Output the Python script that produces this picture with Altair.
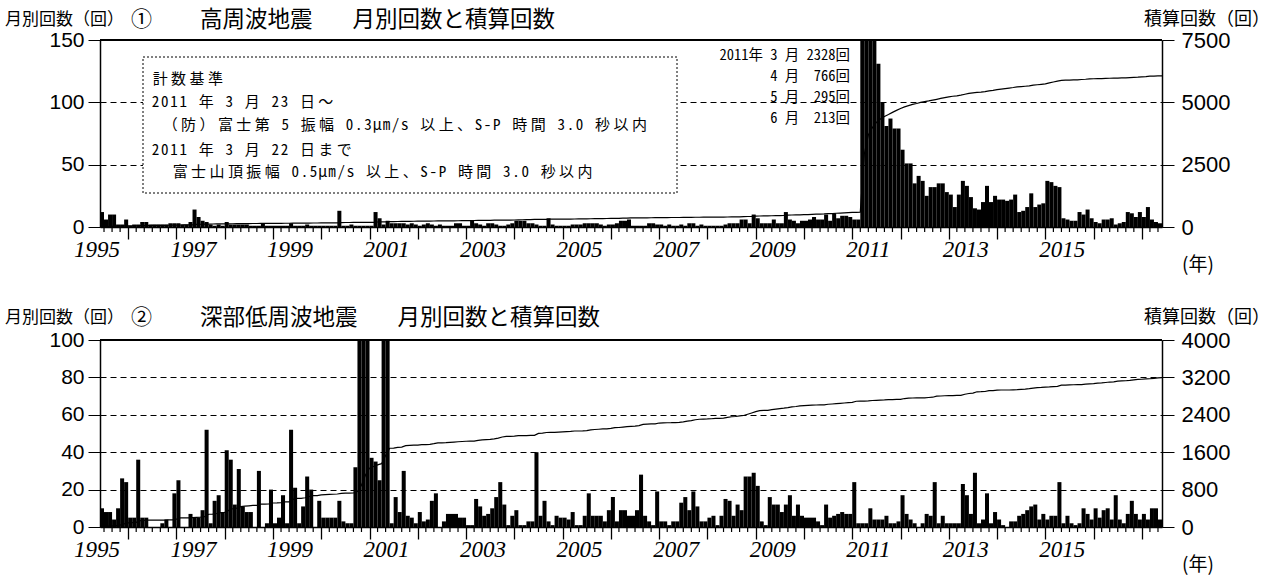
import unicodedata

import altair as alt
import pandas as pd

# Month positions are counted from January 1995 (0 = 1995-01).
FIRST_MONTH = 5          # first bar: June 1995
DOMAIN = [5, 269]        # June 1995 .. end of May 2017
W, H = 1062, 187         # plot area of each panel
GAP = 113                # vertical distance between the two plot areas

# ① High-frequency earthquakes, monthly counts (one row per year)
hf_counts = [
    12, 6, 10, 10, 2, 2, 6,                         # 1995 Jun-Dec
    1, 2, 2, 4, 4, 2, 2, 2, 2, 2, 3, 3,             # 1996
    3, 2, 2, 4, 14, 8, 5, 4, 2, 1, 2, 1,            # 1997
    4, 2, 2, 2, 2, 2, 1, 1, 1, 3, 1, 1,             # 1998
    1, 1, 1, 1, 3, 1, 1, 1, 2, 1, 1, 1,             # 1999
    1, 1, 1, 1, 13, 1, 1, 2, 1, 1, 1, 1,            # 2000
    1, 12, 7, 2, 5, 3, 3, 3, 3, 2, 3, 2,            # 2001
    1, 2, 3, 2, 1, 2, 1, 1, 1, 3, 3, 1,             # 2002
    1, 5, 3, 2, 1, 3, 3, 2, 1, 1, 2, 3,             # 2003
    5, 5, 5, 3, 3, 2, 1, 1, 7, 2, 1, 1,             # 2004
    1, 1, 2, 2, 2, 3, 3, 3, 3, 2, 1, 2,             # 2005
    2, 3, 5, 5, 6, 1, 1, 1, 1, 3, 3, 2,             # 2006
    2, 1, 2, 1, 1, 2, 1, 3, 3, 1, 2, 1,             # 2007
    1, 1, 1, 1, 2, 3, 3, 3, 6, 6, 3, 10,            # 2008
    7, 3, 3, 3, 6, 3, 3, 12, 6, 5, 3, 5,            # 2009
    5, 6, 8, 6, 6, 10, 5, 11, 7, 9, 9, 8,           # 2010
    6, 6, 2328, 766, 295, 213, 131, 100, 81, 87, 79, 79,   # 2011
    62, 51, 51, 35, 41, 37, 25, 32, 32, 35, 35, 28,        # 2012
    26, 16, 26, 37, 33, 24, 15, 14, 20, 33, 20, 25,        # 2013
    22, 22, 21, 22, 26, 12, 13, 16, 27, 16, 18, 19,        # 2014
    37, 36, 33, 32, 7, 6, 5, 5, 12, 10, 14, 7,             # 2015
    4, 3, 6, 6, 7, 2, 3, 4, 12, 11, 8, 12,                 # 2016
    8, 16, 6, 4, 3,                                         # 2017 Jan-May
]

# ② Deep low-frequency earthquakes, monthly counts (one row per year)
dlf_counts = [
    10, 8, 8, 4, 10, 26, 24,                        # 1995 Jun-Dec
    5, 5, 36, 5, 5, 0, 0, 0, 2, 4, 0, 18,           # 1996
    25, 0, 0, 7, 5, 5, 9, 52, 2, 14, 17, 8,         # 1997
    41, 36, 12, 31, 11, 8, 8, 0, 30, 0, 2, 20,      # 1998
    2, 5, 17, 2, 52, 21, 2, 11, 27, 20, 0, 14,      # 1999
    5, 5, 5, 5, 14, 3, 2, 2, 32, 133, 222, 143,     # 2000
    37, 35, 25, 175, 155, 2, 16, 8, 30, 6, 5, 2,    # 2001
    8, 3, 4, 14, 18, 0, 3, 7, 7, 7, 5, 5,           # 2002
    1, 1, 15, 11, 6, 7, 10, 16, 24, 12, 1, 6,       # 2003
    9, 1, 1, 3, 3, 40, 6, 14, 3, 1, 6, 5,           # 2004
    5, 4, 8, 1, 1, 6, 18, 6, 6, 6, 3, 9,            # 2005
    16, 3, 9, 9, 6, 6, 9, 28, 6, 3, 1, 19,          # 2006
    3, 3, 1, 3, 3, 13, 16, 9, 19, 11, 3, 3,         # 2007
    5, 6, 1, 6, 15, 14, 6, 12, 9, 27, 27, 29,       # 2008
    22, 3, 1, 16, 12, 12, 8, 12, 17, 6, 12, 6,      # 2009
    5, 5, 5, 3, 1, 12, 5, 6, 7, 8, 7, 7,            # 2010
    24, 2, 2, 2, 10, 4, 4, 4, 6, 2, 2, 3,           # 2011
    17, 7, 4, 2, 0, 2, 7, 6, 24, 2, 6, 2,           # 2012
    2, 2, 2, 23, 17, 7, 29, 2, 4, 18, 2, 8,         # 2013
    4, 1, 0, 3, 3, 6, 7, 9, 11, 12, 4, 7,           # 2014
    4, 6, 6, 24, 2, 6, 2, 1, 2, 10, 7, 4,           # 2015
    10, 5, 9, 10, 4, 17, 4, 2, 7, 14, 7, 4,         # 2016
    7, 4, 10, 10, 4,                                # 2017 Jan-May
]

# Axis ticks and labels
tick_years = list(range(1996, 2018))                 # long ticks at each January
label_years = list(range(1995, 2017, 2))             # italic year labels
hf_left_ticks = [0, 50, 100, 150]
hf_right_ticks = [0, 2500, 5000, 7500]
dlf_left_ticks = [0, 20, 40, 60, 80, 100]
dlf_right_ticks = [0, 800, 1600, 2400, 3200, 4000]

# Monthly figures quoted next to the March 2011 peak
peak_months = [3, 4, 5, 6]

SANS = "Liberation Sans"
JP = "Noto Sans CJK JP"
JP_MONO = "Noto Sans Mono CJK JP, Noto Sans CJK JP"
SERIF = "Liberation Serif"

months = list(range(FIRST_MONTH, FIRST_MONTH + len(hf_counts)))
x_scale = alt.Scale(domain=DOMAIN, nice=False, zero=False)
x_axis = alt.Axis(values=[(y - 1995) * 12 for y in tick_years], tickSize=12,
                  labels=False, title=None, grid=False, domainColor="black",
                  tickColor="black", domainWidth=1.5, tickWidth=1.3)
short_ticks = [12 * k + j for k in range(23) for j in (2, 4, 6, 8, 10)
               if DOMAIN[0] < 12 * k + j < DOMAIN[1]]


def text_item(text, x, y, size, font=JP, align="left", italic=False):
    return alt.Chart(pd.DataFrame({"t": [text]})).mark_text(
        font=font, fontSize=size, align=align, baseline="middle", color="black",
        fontStyle="italic" if italic else "normal",
    ).encode(text="t:N", x=alt.value(x), y=alt.value(y))


def spaced_line(text, x0, y, half=9.2):
    """One character per cell: full-width cells are twice as wide as half-width ones."""
    rows, x = [], x0
    for ch in text:
        w = 2 * half if unicodedata.east_asian_width(ch) in ("F", "W") else half
        if ch != " ":
            rows.append({"ch": ch, "px": x + w / 2, "py": y})
        x += w
    return rows


def panel(counts, left_ticks, right_ticks, number, name, name_size, title_y, extras):
    df = pd.DataFrame({"m": months, "m_end": [m + 1 for m in months], "count": counts})
    base = alt.Chart(df).transform_window(
        cum="sum(count)", sort=[alt.SortField("m")], frame=[None, 0])

    bars = base.mark_rect(color="black").encode(
        x=alt.X("m:Q", scale=x_scale, axis=x_axis),
        x2="m_end:Q",
        y=alt.Y("count:Q",
                scale=alt.Scale(domain=[left_ticks[0], left_ticks[-1]], clamp=True, nice=False),
                axis=alt.Axis(values=left_ticks, tickSize=12, title=None, labelFont=SANS,
                              labelFontSize=21, labelColor="black", labelPadding=4,
                              grid=True, gridDash=[6, 4], gridColor="black", gridWidth=1,
                              domainColor="black", domainWidth=1.5, tickColor="black",
                              format="d")),
        y2=alt.datum(0),
    )
    line = base.mark_line(color="black", strokeWidth=1.2).encode(
        x=alt.X("m_end:Q", scale=x_scale, axis=x_axis),
        y=alt.Y("cum:Q",
                scale=alt.Scale(domain=[right_ticks[0], right_ticks[-1]], nice=False),
                axis=alt.Axis(orient="right", values=right_ticks, tickSize=12, title=None,
                              labelFont=SANS, labelFontSize=22, labelColor="black",
                              labelPadding=7, grid=False, domainColor="black",
                              domainWidth=1.5, tickColor="black", format="d")),
    )
    minor = alt.Chart(pd.DataFrame({"pos": short_ticks})).mark_rule(
        color="black", strokeWidth=1.2).encode(
        x=alt.X("pos:Q", scale=x_scale, axis=x_axis),
        y=alt.value(H), y2=alt.value(H + 5))
    years = alt.Chart(pd.DataFrame({"pos": [(y - 1995) * 12 for y in label_years],
                                    "label": [str(y) for y in label_years]})).mark_text(
        font=SERIF, fontSize=23, fontStyle="italic", align="left", baseline="middle",
        dx=-6, color="black").encode(
        x=alt.X("pos:Q", scale=x_scale, axis=x_axis), y=alt.value(H + 22.5), text="label:N")
    frame_top = alt.Chart(pd.DataFrame({"a": [0]})).mark_rule(
        color="black", strokeWidth=2).encode(
        x=alt.value(0), x2=alt.value(W), y=alt.value(0))

    name_end = 100 + len(name) * name_size + 40
    titles = [
        text_item("月別回数（回）", -95, title_y, 17),
        text_item(number, 31, title_y, 21),
        text_item(name, 100, title_y, name_size),
        text_item("月別回数と積算回数", name_end, title_y, name_size),
        text_item("積算回数（回）", W + 108, title_y, 18, align="right"),
        text_item("(年)", W + 20, H + 38, 19),
    ]
    layers = [bars, line, minor, years, frame_top] + extras + titles
    return alt.layer(*layers).resolve_scale(y="independent").properties(width=W, height=H)


# Counting criteria box
criteria_box = alt.Chart(pd.DataFrame({"a": [0]})).mark_rect(
    fill="white", stroke="black", strokeDash=[2, 2], strokeWidth=1).encode(
    x=alt.value(43), x2=alt.value(577), y=alt.value(17), y2=alt.value(153))
criteria_lines = [
    ("計数基準", 51, 39),
    ("2011 年 3 月 23 日～", 51, 62),
    ("（防）富士第 5 振幅 0.3μm/s 以上、S-P 時間 3.0 秒以内", 61, 85),
    ("2011 年 3 月 22 日まで", 51, 110),
    ("富士山頂振幅 0.5μm/s 以上、S-P 時間 3.0 秒以内", 71, 132),
]
criteria_chars = []
for t, x, y in criteria_lines:
    criteria_chars += spaced_line(t, x, y)
criteria_text = alt.Chart(pd.DataFrame(criteria_chars)).mark_text(
    font=JP_MONO, fontSize=15, align="center", baseline="middle", color="black").encode(
    x=alt.X("px:Q", scale=None), y=alt.Y("py:Q", scale=None), text="ch:N")
hf_extras = [criteria_box, criteria_text]

# Monthly counts of the 2011 peak, taken from the series
peak_values = [hf_counts[(2011 - 1995) * 12 + m - 1 - FIRST_MONTH] for m in peak_months]
peak_texts = [f"2011年 {peak_months[0]} 月 {peak_values[0]}回"] + [
    f"{m} 月　{v}回" for m, v in zip(peak_months[1:], peak_values[1:])]
for k, t in enumerate(peak_texts):
    hf_extras.append(text_item(t, 750, 16 + 21 * k, 14.5, font=JP_MONO, align="right"))

top = panel(hf_counts, hf_left_ticks, hf_right_ticks, "①", "高周波地震", 22.5, -20.5, hf_extras)
bottom = panel(dlf_counts, dlf_left_ticks, dlf_right_ticks, "②", "深部低周波地震", 22.5, -22, [])

chart = alt.vconcat(top, bottom, spacing=GAP, bounds="flush").properties(
    padding={"left": 5, "top": 8, "right": 5, "bottom": 5},
    background="white",
).configure_view(stroke=None)

chart.save("out.html", embed_options={"renderer": "svg", "actions": False})
